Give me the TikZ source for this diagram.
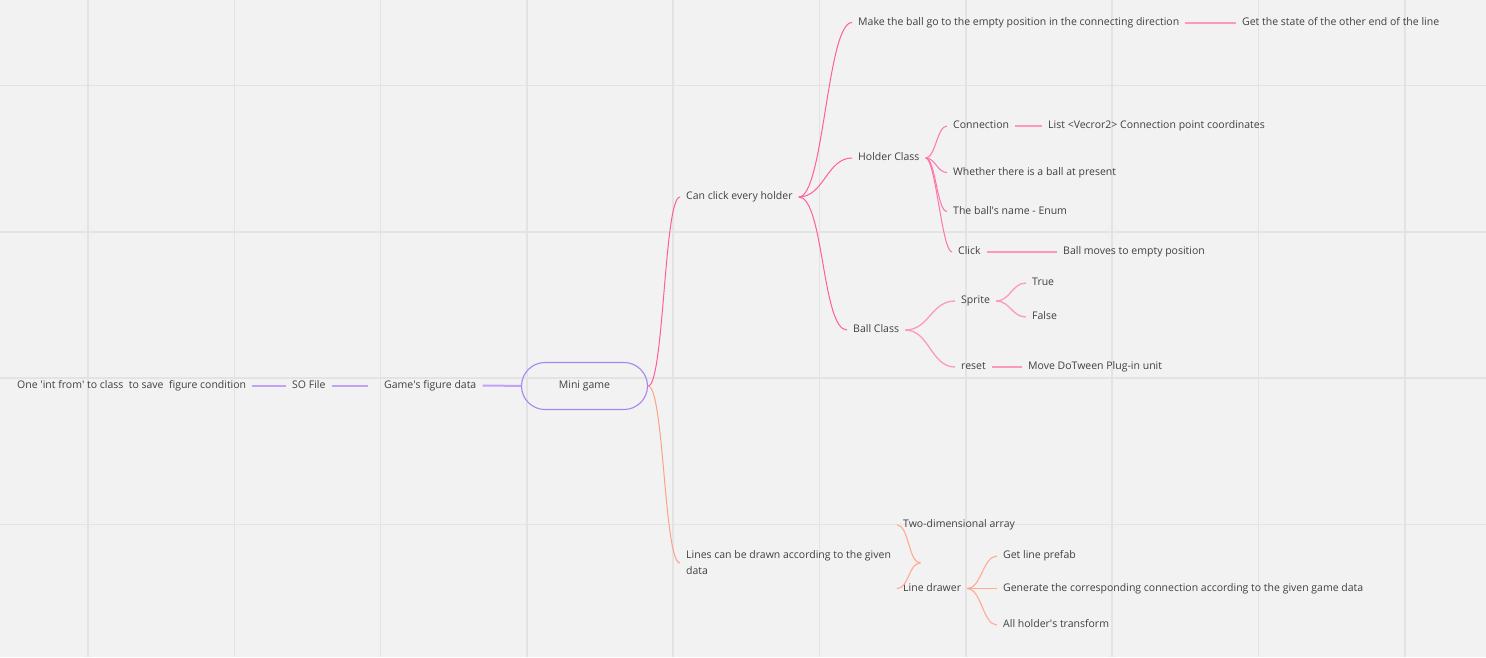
\documentclass[tikz,border=0pt]{standalone}
\usepackage{fontspec}
\setmainfont{Open Sans}
\usetikzlibrary{positioning,calc}
\definecolor{bgcol}{HTML}{F2F2F2}
\definecolor{gridcol}{HTML}{E3E3E3}
\definecolor{txtcol}{HTML}{404040}
\definecolor{boxcol}{HTML}{A586F2}
\definecolor{lavcol}{HTML}{C2A2F7}
\definecolor{pinka}{HTML}{FF5E9E}
\definecolor{pinkb}{HTML}{FF74AA}
\definecolor{pinkc}{HTML}{FF98C1}
\definecolor{orangea}{HTML}{FFA088}
\definecolor{orangeb}{HTML}{FFAB92}
\begin{document}
\begin{tikzpicture}
[x=1pt,y=-1pt,
font=\fontsize{10.5}{16}\selectfont,
%
topic/.style={shape=rectangle,anchor=west,inner xsep=6pt,inner ysep=0pt,
  text height=7.8pt,text depth=2.2pt,text=txtcol},
wtopic/.style={shape=rectangle,anchor=west,inner xsep=6pt,inner ysep=0pt,
  text width=228pt,align=flush left,text=txtcol},
root/.style={shape=rectangle,rounded corners=23.5pt,draw=boxcol,line width=1.1pt,
  minimum width=126pt,minimum height=47pt,text=txtcol},
%
gridline/.style={draw=gridcol,line width=1.6pt},
vlink/.style={draw=lavcol,line width=2pt},
plink/.style={draw=pinkc,line width=2pt},
branch/.style={draw=pinka,line width=1pt},
pbranch/.style={draw=pinkb,line width=1pt},
lbranch/.style={draw=pinkc,line width=1.3pt},
obranch/.style={draw=orangea,line width=1pt},
lobranch/.style={draw=orangeb,line width=1.1pt}]
%
%% canvas and grid
\useasboundingbox (0,0) rectangle (1486,657);
\fill[bgcol] (0,0) rectangle (1486,657);
\def\cell{146.3}
\foreach \i in {0,...,9}
\draw[gridline] ({88+\cell*\i},0) -- ({88+\cell*\i},657);
\foreach \j in {0,...,3}
\draw[gridline] (0,{85.5+\cell*\j}) -- (1486,{85.5+\cell*\j});
%
%% root and left chain
\node (mini) [root] at (584.5,386) {Mini game};
\node (figdata) [topic] at (378,385.5) {Game\textquotesingle s figure data};
\node (sofile) [topic] at (286,385.5) {SO File};
\node (cond) [topic] at (11,385.5) {One \textquotesingle int from\textquotesingle\ to class\ \ to save\ \ figure condition};
%
\draw[vlink] (cond) -- (sofile);
\draw[vlink,shorten >=10pt] (sofile) -- (figdata);
\draw[vlink] (figdata) -- (mini);
%
%% upper branch
\node (can) [topic] at (680,197) {Can click every holder};
\node (make) [topic] at (852,22.5) {Make the ball go to the empty position in the connecting direction};
\node (gets) [topic] at (1236,22.5) {Get the state of the other end of the line};
\node (holder) [topic] at (852,158) {Holder Class};
\node (ballc) [topic] at (847,330) {Ball Class};
%
\draw[branch] (mini.east) .. controls +(16,0) and +(-16,0) .. (can.west);
\foreach \c in {make,holder,ballc}
\draw[branch] (can.east) .. controls +(25,0) and +(-25,0) .. (\c.west);
\draw[plink] (make) -- (gets);
%
%% holder class
\begin{scope}
\node (conn) [topic] at (947,126) {Connection};
\node (listv) [topic] at (1042,126) {List <Vecror2> Connection point coordinates};
\node (whether) [topic] at (947,172.5) {Whether there is a ball at present};
\node (ballname) [topic] at (947,211.5) {The ball\textquotesingle s name - Enum};
\node (click) [topic] at (952,252) {Click};
\node (moves) [topic] at (1057,252) {Ball moves to empty position};
\end{scope}
%
\foreach \c in {conn,whether,ballname,click}
\draw[pbranch] (holder.east) .. controls +(10,0) and +(-10,0) .. (\c.west);
\draw[plink] (conn) -- (listv);
\draw[plink] (click) -- (moves);
%
%% ball class
\begin{scope}
\node (sprite) [topic] at (955,301) {Sprite};
\node (truev) [topic] at (1026,283) {True};
\node (falsev) [topic] at (1026,317) {False};
\node (reset) [topic] at (955,367) {reset};
\node (dotween) [topic] at (1022,367) {Move DoTween Plug-in unit};
\end{scope}
%
\foreach \c in {sprite,reset}
\draw[lbranch] (ballc.east) .. controls +(24,0) and +(-24,0) .. (\c.west);
\foreach \c in {truev,falsev}
\draw[lbranch] (sprite.east) .. controls +(14,0) and +(-14,0) .. (\c.west);
\draw[plink] (reset) -- (dotween);
%
%% lower branch
\node (lines) [wtopic] at (680,563) {Lines can be drawn according to the given\\data};
\node (twod) [topic] at (897,525) {Two-dimensional array};
\node (drawer) [topic] at (897,588.5) {Line drawer};
\node (getline) [topic] at (997,556) {Get line prefab};
\node (generate) [topic] at (997,588.5) {Generate the corresponding connection according to the given game data};
\node (allhold) [topic] at (997,625) {All holder\textquotesingle s transform};
%
\draw[obranch] (mini.east) .. controls +(16,0) and +(-16,0) .. (lines.west);
\foreach \c in {twod,drawer}
\draw[lobranch] (lines.east) .. controls +(-12,0) and +(12,0) .. (\c.west);
\foreach \c in {getline,generate,allhold}
\draw[lobranch] (drawer.east) .. controls +(14,0) and +(-14,0) .. (\c.west);
\end{tikzpicture}
\end{document}
